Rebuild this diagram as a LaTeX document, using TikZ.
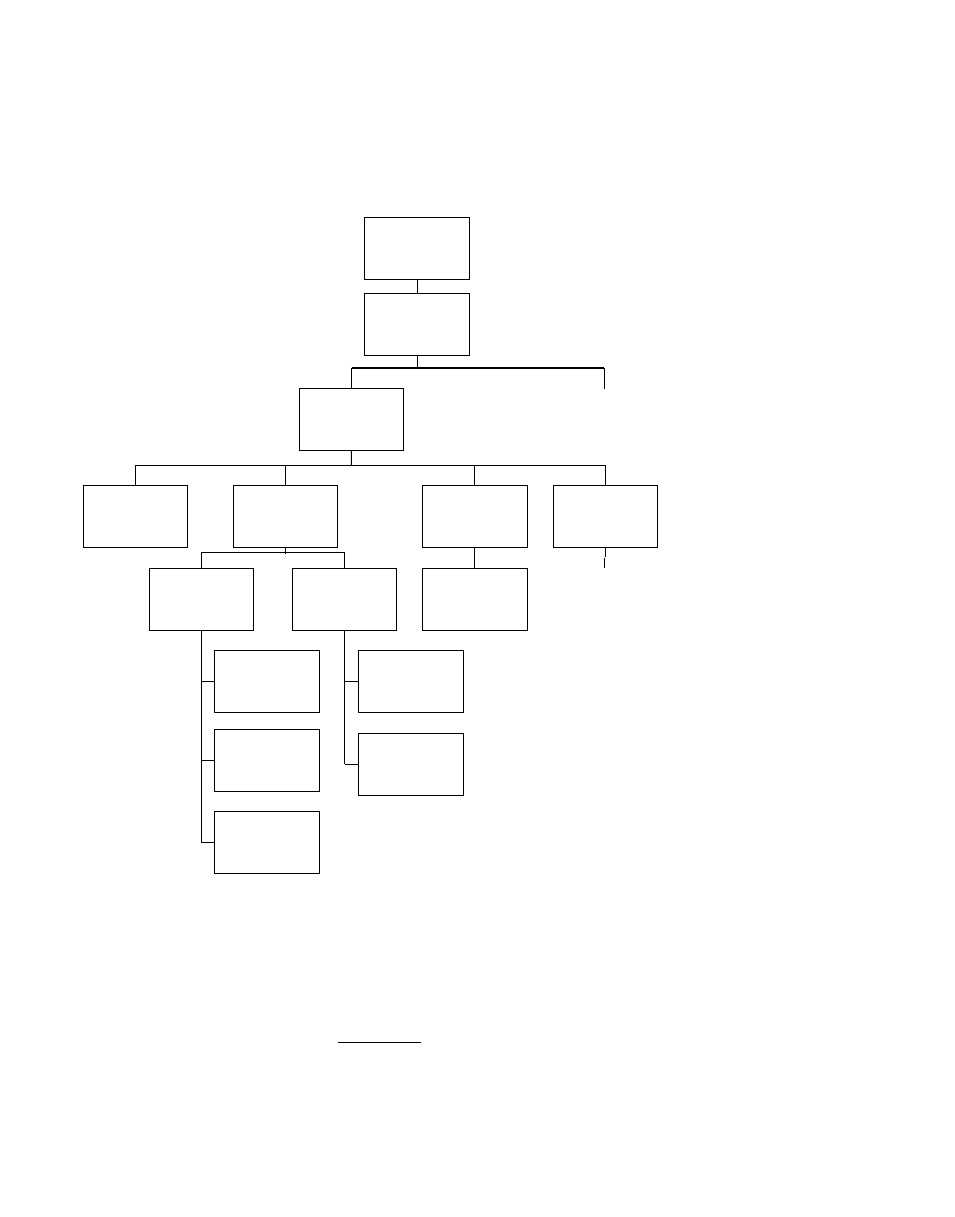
\documentclass[tikz,border=0pt]{standalone}
\begin{document}
\begin{tikzpicture}[x=1pt,y=-1pt,
  orgbox/.style={draw,line width=1pt,rectangle,inner sep=0pt,minimum width=104.5pt,minimum height=62pt},
  conn/.style={line width=1pt},
  heavy/.style={line width=2pt}]
\useasboundingbox (0,0) rectangle (954,1217);
% boxes
\node[orgbox] (a) at (417,248.3) {};
\node[orgbox] (b) at (417,324.3) {};
\node[orgbox] (c) at (351.5,419.3) {};
\node[orgbox] (d1) at (135.3,516.3) {};
\node[orgbox] (d2) at (285.3,516.3) {};
\node[orgbox] (d3) at (474.8,516.3) {};
\node[orgbox] (d4) at (605.3,516.3) {};
\node[orgbox] (e1) at (201.3,599.3) {};
\node[orgbox] (e2) at (344.7,599.3) {};
\node[orgbox] (e3) at (474.8,599.3) {};
\node[orgbox] (f1) at (266.8,681.3) {};
\node[orgbox] (f2) at (266.8,760.3) {};
\node[orgbox] (f3) at (266.8,842.3) {};
\node[orgbox] (g1) at (410.8,681.3) {};
\node[orgbox] (g2) at (410.8,764.3) {};
% coordinates
\coordinate (tr) at (604.3,367.7);
\coordinate (tre) at (604.3,388.7);
\coordinate (r1) at (351.3,465.3);
\coordinate (s1) at (605.3,557);
\coordinate (s2) at (604,557.7);
\coordinate (s3) at (604,567.7);
\coordinate (u1) at (338.3,1042.3);
\coordinate (u2) at (420.7,1042.3);
% connectors
\draw[conn] (a.south) -- (b.north);
\draw[conn] (b.south) -- (b.south |- tr);
\draw[heavy] (c.north |- tr) -- (tr);
\draw[conn] (c.north) -- (c.north |- tr);
\draw[conn] (tr) -- (tre);
\draw[conn] (c.south) -- (r1);
\draw[conn] (d1.north) |- (r1) -| (d4.north);
\draw[conn] (d2.north) -- (d2.north |- r1);
\draw[conn] (d3.north) -- (d3.north |- r1);
\draw[conn] (d2.south) -- ++(0,6);
\draw[conn] (e1.north) -- ++(0,-15) -| (e2.north);
\draw[conn] (d3.south) -- (e3.north);
\draw[conn] (d4.south) -- (s1);
\draw[conn] (s2) -- (s3);
\draw[conn] (e1.south) |- (f3.west);
\draw[conn] (f1.west) -- (f1.west -| e1.south);
\draw[conn] (f2.west) -- (f2.west -| e1.south);
\draw[conn] (e2.south) -- (e2.south |- g2.west);
\draw[line width=1.6pt] (e2.south |- g2.west) -- (g2.west);
\draw[conn] (g1.west) -- (g1.west -| e2.south);
\draw[conn] (u1) -- (u2);
\end{tikzpicture}
\end{document}
